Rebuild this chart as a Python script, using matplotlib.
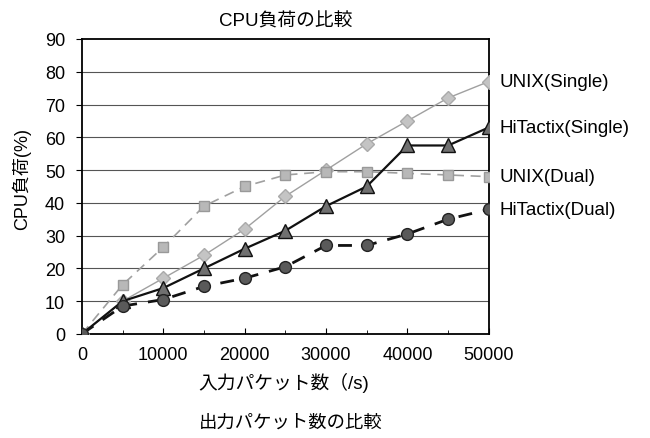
import matplotlib
matplotlib.use("Agg")
import matplotlib.pyplot as plt

plt.rcParams['font.family'] = ['Liberation Sans', 'Noto Sans CJK JP']
plt.rcParams['xtick.direction'] = 'in'
plt.rcParams['ytick.direction'] = 'out'

# packets per second
packets = [0, 5000, 10000, 15000, 20000, 25000, 30000, 35000, 40000, 45000, 50000]
unix_single = [0, 10, 17, 24, 32, 42, 50, 58, 65, 72, 77]
hitactix_single = [0, 10, 14, 20, 26, 31.5, 39, 45, 57.5, 57.5, 63]
unix_dual = [0, 15, 26.5, 39, 45, 48.5, 49.5, 49.5, 49, 48.5, 48]
hitactix_dual = [0, 8.5, 10.5, 14.5, 17, 20.5, 27, 27, 30.5, 35, 38]

series_names = ['UNIX(Single)', 'HiTactix(Single)', 'UNIX(Dual)', 'HiTactix(Dual)']
y_ticks = [0, 10, 20, 30, 40, 50, 60, 70, 80, 90]
x_ticks = [0, 10000, 20000, 30000, 40000, 50000]

fig = plt.figure(figsize=(6.5, 4.39), dpi=100)
ax = fig.add_axes([0.126, 0.237, 0.626, 0.672])

for y in y_ticks[1:-1]:
    ax.axhline(y, color='#555555', lw=0.8, zorder=1)

ax.plot(packets, unix_single, '-', color='#a0a0a0', lw=1.0, marker='D', markersize=7.5,
        markerfacecolor='#c4c4c4', markeredgecolor='#aaaaaa', zorder=3)
ax.plot(packets, unix_dual, '--', color='#a0a0a0', lw=1.2, dashes=(6, 4), marker='s', markersize=7.5,
        markerfacecolor='#b8b8b8', markeredgecolor='#999999', zorder=3)
ax.plot(packets, hitactix_single, '-', color='#111111', lw=1.6, marker='^', markersize=9.5,
        markerfacecolor='#707070', markeredgecolor='#111111', zorder=4)
ax.plot(packets, hitactix_dual, '--', color='#111111', lw=2.0, dashes=(5, 4), marker='o', markersize=8.5,
        markerfacecolor='#5a5a5a', markeredgecolor='#222222', zorder=4)

ends = [unix_single[-1], hitactix_single[-1], unix_dual[-1], hitactix_dual[-1]]
for name, yv in zip(series_names, ends):
    ax.annotate(name, xy=(packets[-1], yv), xytext=(8, 0), textcoords='offset points',
                va='center', ha='left', fontsize=13.5, annotation_clip=False)

ax.set_xlim(0, 50000)
ax.set_ylim(0, 90)
ax.set_xticks(x_ticks)
ax.set_xticks([5000, 15000, 25000, 35000, 45000], minor=True)
ax.set_yticks(y_ticks)
ax.tick_params(axis='both', labelsize=13, length=4)
ax.tick_params(axis='x', which='minor', length=3)
ax.tick_params(axis='x', pad=9)
ax.tick_params(axis='y', pad=8)
for side in ['top', 'right', 'bottom', 'left']:
    ax.spines[side].set_linewidth(1.3)

ax.set_title('CPU負荷の比較', fontsize=13.5, pad=10)
ax.set_ylabel('CPU負荷(%)', fontsize=13)
ax.yaxis.set_label_coords(-0.125, 0.53)
fig.text(0.437, 0.128, '入力パケット数（/s)', ha='center', va='center', fontsize=13.5)
fig.text(0.447, 0.037, '出力パケット数の比較', ha='center', va='center', fontsize=13.2)

plt.savefig('out.png', dpi=100)
plt.close()
